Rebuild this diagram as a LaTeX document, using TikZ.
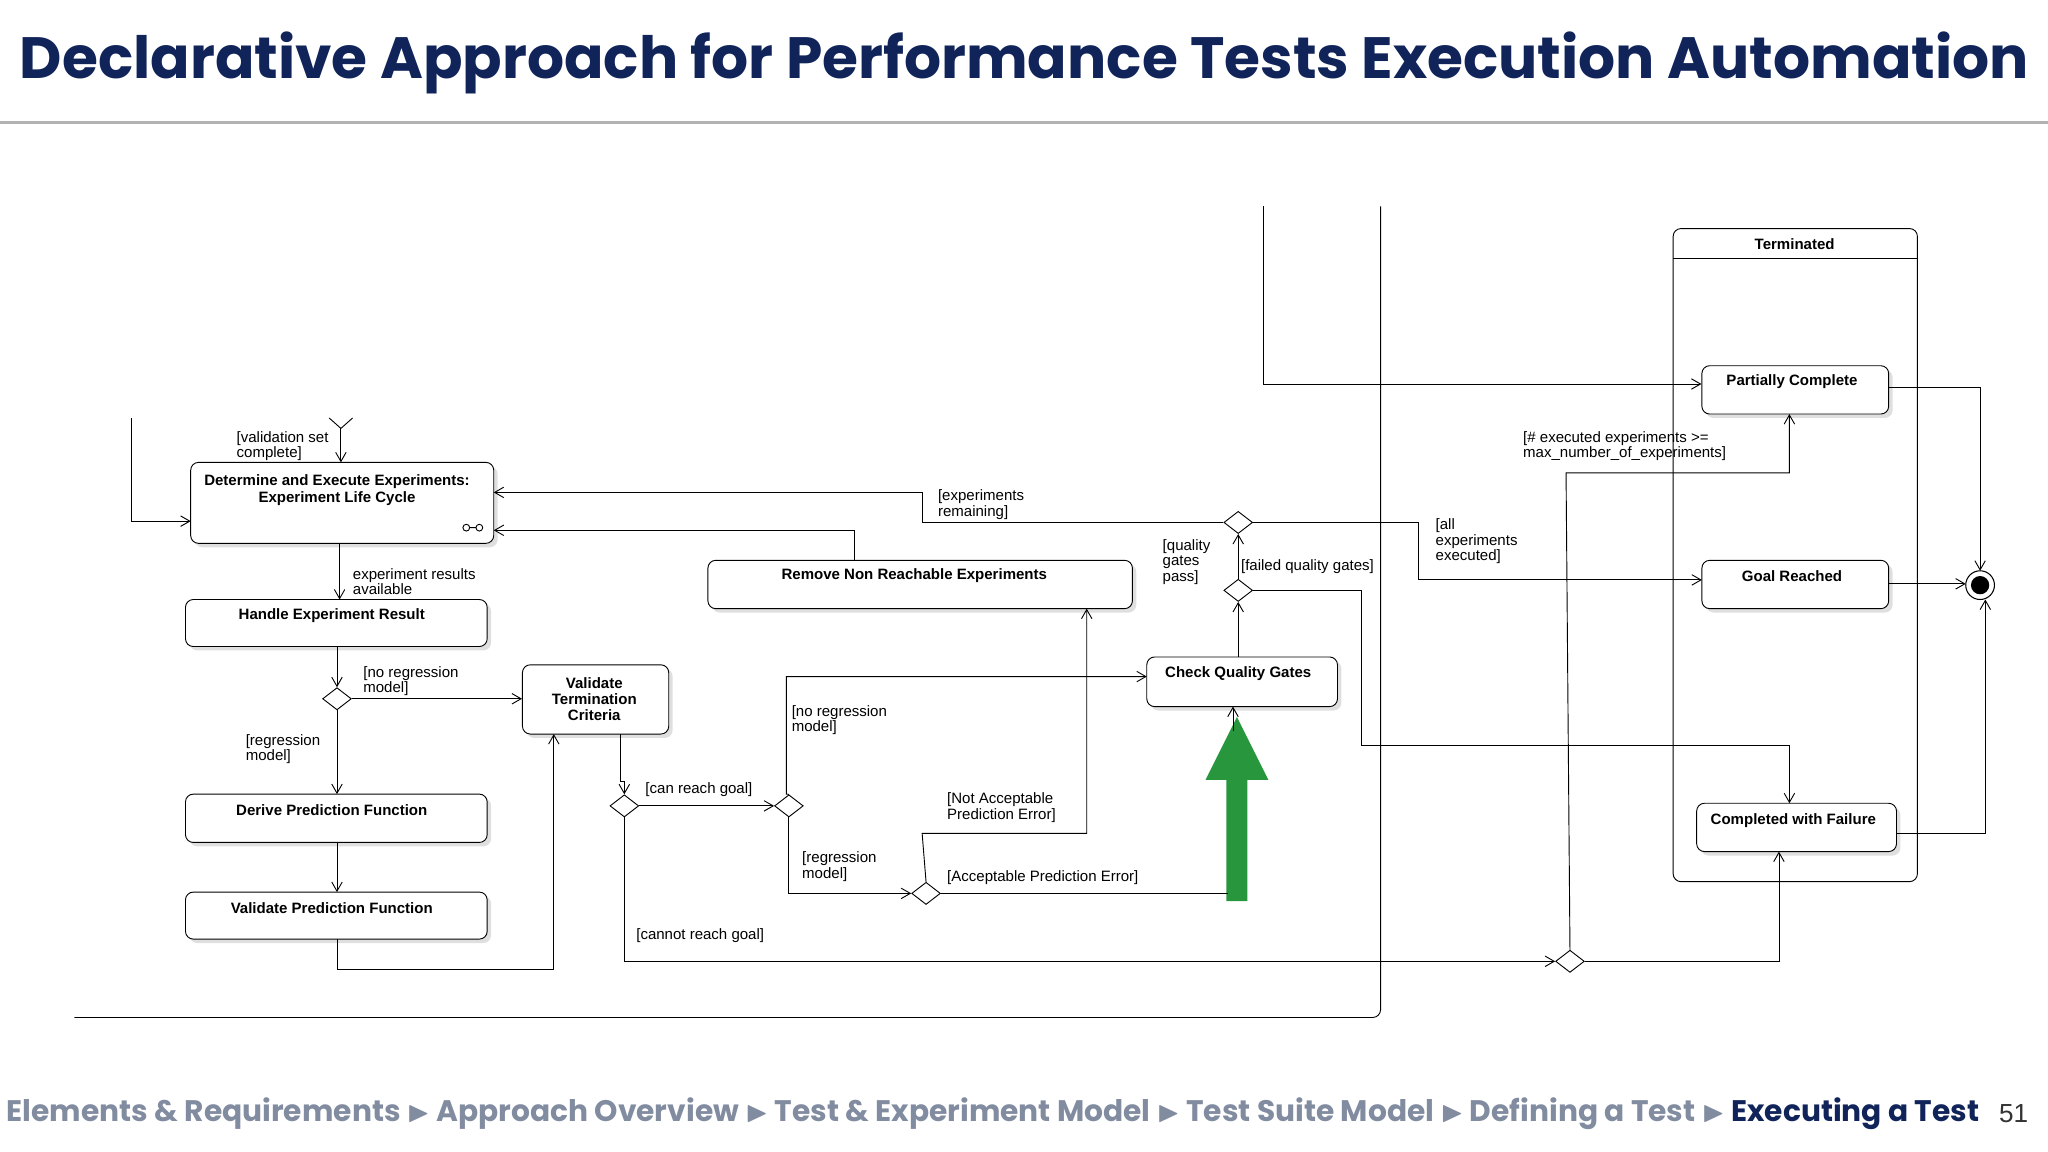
\documentclass[tikz,border=0pt]{standalone}
\usepackage{amssymb}
\usepackage{fontspec}
\setmainfont{Liberation Sans}
\newfontfamily\titlefont{Poppins}
\usetikzlibrary{arrows.meta,shapes.geometric,shadows}
\definecolor{navy}{RGB}{16,36,90}
\definecolor{crumb}{RGB}{130,140,160}
\definecolor{ggreen}{RGB}{40,150,60}
\begin{document}
\begin{tikzpicture}[x=1pt,y=-1pt,
  every node/.style={font=\fontsize{11.5}{12}\selectfont},
  ar/.style={-{Straight Barb[length=7pt,width=8pt]},line width=0.7pt},
  ln/.style={line width=0.7pt},
  box/.style={draw,rounded corners=6pt,line width=0.7pt,fill=white,drop shadow={shadow xshift=3pt,shadow yshift=-3pt,opacity=0.25},inner sep=0pt},
  bt/.style={font=\fontsize{11.5}{12.5}\selectfont\bfseries,align=center},
  dia/.style={draw,diamond,fill=white,line width=0.7pt,minimum width=22pt,minimum height=17pt,inner sep=0pt},
  lab/.style={align=left,anchor=north west,inner sep=0pt,font=\fontsize{11.5}{11.8}\selectfont}]
\useasboundingbox (0,0) rectangle (1568,882);
% title
\node[anchor=west,inner sep=0pt,text=navy] (title) at (15,48) {\resizebox{1538pt}{!}{\titlefont\bfseries Declarative Approach for Performance Tests Execution Automation}};
\draw[line width=2.5pt,color=gray!60] (0,94) -- (1568,94);
% footer
\node[anchor=west,inner sep=0pt] (foot) at (5,853) {\resizebox{1510pt}{!}{\titlefont\bfseries\color{crumb}Elements \& Requirements $\blacktriangleright$ Approach Overview $\blacktriangleright$ Test \& Experiment Model $\blacktriangleright$ Test Suite Model $\blacktriangleright$ Defining a Test $\blacktriangleright$ \color{navy}Executing a Test}};
\node[anchor=west,font=\fontsize{20}{20}\selectfont,text=black!80] (pg) at (1527,853) {51};
% frames
\draw[ln,rounded corners=6pt] (1057,158) -- (1057,779) -- (57,779);
\draw[ln,rounded corners=6pt,fill=white] (1281,675) -- (1281,175) -- (1468,175) -- (1468,675) -- cycle;
\draw[ln] (1281,198) -- (1468,198);
\node[bt] (term) at (1374,187) {Terminated};
% boxes
\node[box,minimum width=232pt,minimum height=62pt] (det) at (262,385) {};
\node[bt,anchor=north] (dett) at (258,360) {Determine and Execute Experiments:\\Experiment Life Cycle};
\draw[ln] (357,404) circle (2.6pt) (367,404) circle (2.6pt) (359.6,404) -- (364.4,404);
\node[box,minimum width=231pt,minimum height=36pt] (her) at (257.5,477) {};
\node[bt] (hert) at (254,471) {Handle Experiment Result};
\node[box,minimum width=112pt,minimum height=53pt] (vtc) at (456,535.5) {};
\node[bt,anchor=north] (vtct) at (455,515) {Validate\\Termination\\Criteria};
\node[box,minimum width=231pt,minimum height=37pt] (dpf) at (257.5,626.5) {};
\node[bt] (dpft) at (254,620) {Derive Prediction Function};
\node[box,minimum width=231pt,minimum height=36pt] (vpf) at (257.5,701) {};
\node[bt] (vpft) at (254,695) {Validate Prediction Function};
\node[box,minimum width=325pt,minimum height=37pt] (rne) at (704.5,447.5) {};
\node[bt] (rnet) at (700,441) {Remove Non Reachable Experiments};
\node[box,minimum width=146pt,minimum height=38pt] (cqg) at (951,522) {};
\node[bt] (cqgt) at (948,516) {Check Quality Gates};
\node[box,minimum width=143pt,minimum height=37pt] (pc) at (1374.5,298.5) {};
\node[bt] (pct) at (1372,292) {Partially Complete};
\node[box,minimum width=143pt,minimum height=37pt] (gr) at (1374.5,447.5) {};
\node[bt] (grt) at (1372,441) {Goal Reached};
\node[box,minimum width=153pt,minimum height=37pt] (cwf) at (1375.5,633.5) {};
\node[bt] (cwft) at (1373,628) {Completed with Failure};
% final
\draw[line width=0.8pt] (1516,448) circle (11pt);
\fill (1516,448) circle (7pt);
\coordinate (fin) at (1516,448);
% diamonds
\node[dia] (d1) at (258,535) {};
\node[dia] (d2) at (478,617) {};
\node[dia] (d3) at (604,617) {};
\node[dia] (d4) at (709,684) {};
\node[dia] (d5) at (948,452) {};
\node[dia] (d6) at (948,400) {};
\node[dia] (d7) at (1202,736) {};
% green arrow
\fill[ggreen] (939,690) -- (955,690) -- (955,597) -- (971,597) -- (947,549) -- (923,597) -- (939,597) -- cycle;
% inputs
\draw[ar] (101,320) -- (101,399) -- (146,399);
\draw[ar] (261,328) -- (261,354);
\draw[ln] (252,320) -- (261,328) -- (270,320);
\draw[ar] (967,158) -- (967,294) -- (pc.west|-0,294);
% connectors
\draw[ar] (260,416) -- (260,459);
\draw[ar] (258,495) -- (d1.north);
\draw[ar] (d1.east) -- (vtc.west|-d1);
\draw[ar] (d1.south) -- (258,608);
\draw[ar] (258,645) -- (258,683);
\draw[ar] (258,719) -- (258,742) -- (424,742) -- (424,562);
\draw[ar] (475,562) -- (475,598) -- (478,598) -- (d2.north);
\draw[ar] (d2.east) -- (d3.west);
\draw[ar] (d2.south) -- (478,736) -- (d7.west);
\draw[ar] (d3.north) -- (602,608) -- (602,518) -- (878,518);
\draw[ar] (d3.south) -- (604,684) -- (d4.west);
\draw[ar] (d4.north) -- (706,638) -- (832,638) -- (832,466);
\draw[ln] (d4.east) -- (940,684);
\draw[ar] (944,560) -- (944,541);
\draw[ar] (948,503) -- (d5.south);
\draw[ar] (d5.north) -- (d6.south);
\draw[ar] (d5.east) -- (1042,452) -- (1042,571) -- (1370,571) -- (1370,615);
\draw[ar] (d6.west) -- (706,400) -- (706,377) -- (378,377);
\draw[ar] (654,429) -- (654,406) -- (378,406);
\draw[ar] (d6.east) -- (1086,400) -- (1086,444) -- (1303,444);
\draw[ar] (d7.north) -- (1199,362) -- (1370,362) -- (1370,317);
\draw[ar] (d7.east) -- (1362,736) -- (1362,652);
\draw[ar] (1446,297) -- (1516,297) -- (1516,437);
\draw[ar] (1446,447) -- (1505,447);
\draw[ar] (1452,638) -- (1520,638) -- (1520,459);
% labels
\node[lab] (l1) at (181,330) {[validation set\\complete]};
\node[lab] (l2) at (270,435) {experiment results\\available};
\node[lab] (l3) at (278,510) {[no regression\\model]};
\node[lab] (l4) at (188,562) {[regression\\model]};
\node[lab] (l5) at (494,599) {[can reach goal]};
\node[lab] (l6) at (487,711) {[cannot reach goal]};
\node[lab] (l7) at (606,540) {[no regression\\model]};
\node[lab] (l8) at (614,652) {[regression\\model]};
\node[lab] (l9) at (725,607) {[Not Acceptable\\Prediction Error]};
\node[lab] (l10) at (725,666) {[Acceptable Prediction Error]};
\node[lab] (l11) at (718,375) {[experiments\\remaining]};
\node[lab] (l12) at (890,413) {[quality\\gates\\pass]};
\node[lab] (l13) at (950,428) {[failed quality gates]};
\node[lab] (l14) at (1099,397) {[all\\experiments\\executed]};
\node[lab] (l15) at (1166,330) {[\# executed experiments >=\\max\_number\_of\_experiments]};
\end{tikzpicture}
\end{document}
